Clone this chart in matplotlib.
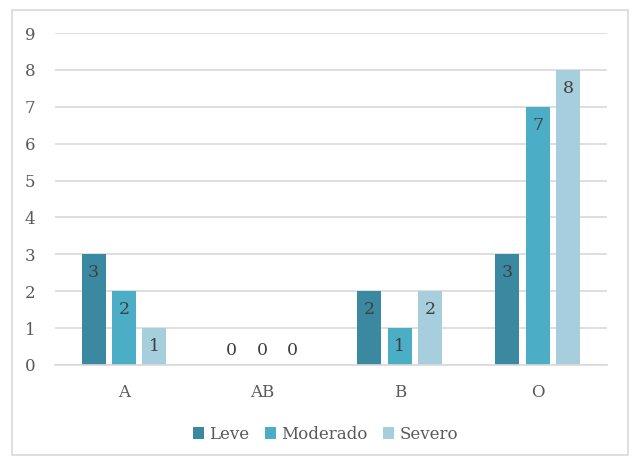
import numpy as np
import matplotlib
matplotlib.use("Agg")
import matplotlib.pyplot as plt
from matplotlib.patches import Rectangle

categories = ["A", "AB", "B", "O"]
series_names = ["Leve", "Moderado", "Severo"]
leve = [3, 0, 2, 3]
moderado = [2, 0, 1, 7]
severo = [1, 0, 2, 8]
colors = ["#3A89A0", "#4BADC6", "#A6CEDD"]

plt.rcParams["font.family"] = ["DejaVu Serif"]
TXT = "#595959"

fig = plt.figure(figsize=(6.32, 4.59), dpi=100)
ax = fig.add_axes([0.087, 0.205, 0.873, 0.723])

x = np.arange(len(categories))
width = 0.174
offsets = [-0.22, 0.0, 0.22]
for vals, name, col, off in zip([leve, moderado, severo], series_names, colors, offsets):
    ax.bar(x + off, vals, width, color=col, label=name, zorder=2)
    for xi, v in zip(x + off, vals):
        if v > 0:
            ax.annotate(str(v), (xi, v), xytext=(0, -7), textcoords="offset points",
                        ha="center", va="top", fontsize=12.5, color="#404040")
        else:
            ax.annotate(str(v), (xi, v), xytext=(0, 4), textcoords="offset points",
                        ha="center", va="bottom", fontsize=12.5, color="#404040")

ax.set_xlim(-0.5, 3.5)
ax.set_ylim(0, 9)
ax.set_yticks(range(0, 10))
ax.set_xticks(x)
ax.set_xticklabels(categories)
ax.tick_params(axis="both", length=0, labelsize=12, labelcolor=TXT)
ax.tick_params(axis="y", pad=14)
ax.tick_params(axis="x", pad=14)
ax.grid(axis="y", color="#D9D9D9", linewidth=1.2, zorder=0)
ax.set_axisbelow(True)
for s in ["top", "right", "left"]:
    ax.spines[s].set_visible(False)
ax.spines["bottom"].set_color("#D9D9D9")
ax.spines["bottom"].set_linewidth(1.2)

leg = ax.legend(loc="center", bbox_to_anchor=(0.49, -0.21), ncol=3, frameon=False,
                fontsize=12, handlelength=0.7, handleheight=0.7, handletextpad=0.3,
                columnspacing=0.9)
for t in leg.get_texts():
    t.set_color(TXT)

fig.patches.append(Rectangle((12 / 632, 4 / 459), 616 / 632, 445 / 459, transform=fig.transFigure,
                             fill=False, edgecolor="#D9D9D9", linewidth=1.2))

fig.savefig("out.png", dpi=100)
